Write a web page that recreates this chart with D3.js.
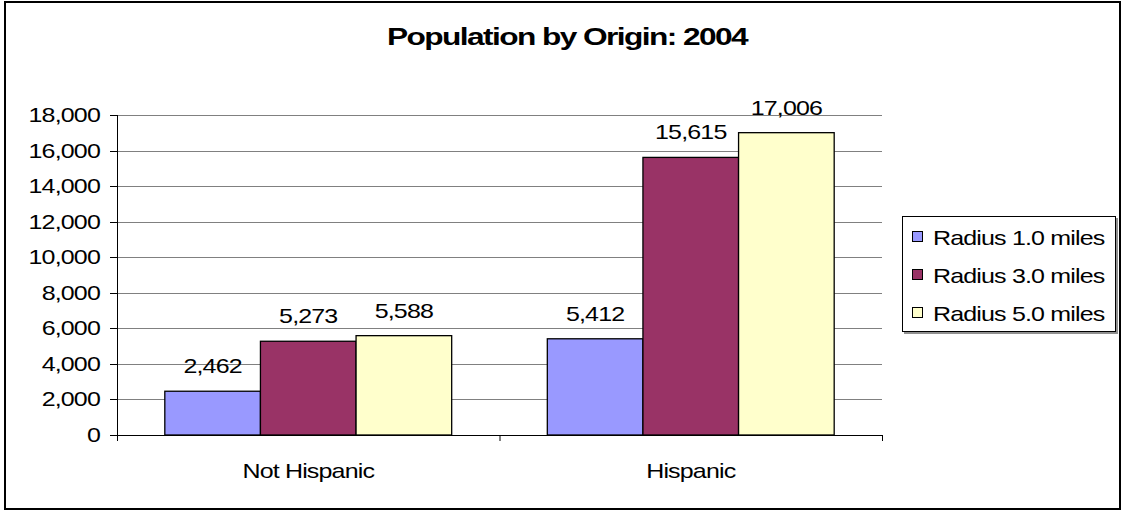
<!DOCTYPE html>
<html>
<head>
<meta charset="utf-8">
<script src="https://cdn.jsdelivr.net/npm/d3@7"></script>
<style>
  body { margin: 0; background: #fff; }
  text { font-family: "Liberation Sans", Arial, sans-serif; fill: #000; letter-spacing: -0.7px; }
</style>
</head>
<body>
<div id="container"></div>
<script>
// data
const categories = ["Not Hispanic", "Hispanic"];
const seriesNames = ["Radius 1.0 miles", "Radius 3.0 miles", "Radius 5.0 miles"];
const radius1 = [2462, 5412];
const radius3 = [5273, 15615];
const radius5 = [5588, 17006];
const yTicks = [0, 2000, 4000, 6000, 8000, 10000, 12000, 14000, 16000, 18000];
const colors = ["#9999FF", "#993366", "#FFFFCC"];

const width = 1123, height = 512;
const plot = { left: 117, right: 882, top: 115, bottom: 435 };
const sx = 1.19; // text in the picture is stretched sideways
const fontSize = 21;

const seriesValues = [radius1, radius3, radius5];

const svg = d3.select("#container").append("svg")
  .attr("width", width)
  .attr("height", height);

// outer frame
svg.append("rect")
  .attr("x", 5).attr("y", 2)
  .attr("width", 1115).attr("height", 507)
  .attr("fill", "#fff")
  .attr("stroke", "#000")
  .attr("stroke-width", 2);

function label(g, x, y, str, anchor, size, weight, scaleX) {
  return g.append("text")
    .attr("transform", `translate(${x},${y}) scale(${scaleX || sx},1)`)
    .attr("text-anchor", anchor)
    .style("font-size", (size || fontSize) + "px")
    .style("font-weight", weight || "normal")
    .text(str);
}

// title
label(svg, 567, 45, "Population by Origin: 2004", "middle", 24, "bold", 1.32)
  .style("letter-spacing", "-1.2px");

const y = d3.scaleLinear().domain([0, 18000]).range([plot.bottom, plot.top]);
const x0 = d3.scaleBand().domain(categories).range([plot.left, plot.right]);
const x1 = d3.scaleBand().domain(seriesNames).range([0, x0.bandwidth()]).paddingOuter(0.5);

// gridlines
svg.selectAll("line.grid")
  .data(yTicks.filter(d => d > 0))
  .join("line")
  .attr("class", "grid")
  .attr("x1", plot.left).attr("x2", plot.right)
  .attr("y1", d => Math.round(y(d)) + 0.5).attr("y2", d => Math.round(y(d)) + 0.5)
  .attr("stroke", "#808080").attr("stroke-width", 1);

// y axis ticks and labels
svg.selectAll("line.ytick")
  .data(yTicks)
  .join("line")
  .attr("class", "ytick")
  .attr("x1", plot.left - 7).attr("x2", plot.left)
  .attr("y1", d => Math.round(y(d)) + 0.5).attr("y2", d => Math.round(y(d)) + 0.5)
  .attr("stroke", "#000");

yTicks.forEach(t => label(svg, 100, y(t) + 7, d3.format(",")(t), "end"));

// bars
const rows = [];
categories.forEach((c, i) => {
  seriesNames.forEach((s, j) => rows.push({ cat: c, series: s, value: seriesValues[j][i], color: colors[j] }));
});

svg.selectAll("rect.bar")
  .data(rows)
  .join("rect")
  .attr("class", "bar")
  .attr("x", d => x0(d.cat) + x1(d.series))
  .attr("y", d => y(d.value))
  .attr("width", x1.bandwidth())
  .attr("height", d => y(0) - y(d.value))
  .attr("fill", d => d.color)
  .attr("stroke", "#000")
  .attr("stroke-width", 1.3);

rows.forEach(d => {
  label(svg, x0(d.cat) + x1(d.series) + x1.bandwidth() / 2, y(d.value) - 18, d3.format(",")(d.value), "middle");
});

// axes lines
svg.append("line")
  .attr("x1", plot.left + 0.5).attr("x2", plot.left + 0.5)
  .attr("y1", plot.top).attr("y2", plot.bottom + 6)
  .attr("stroke", "#000");
svg.append("line")
  .attr("x1", plot.left).attr("x2", plot.right)
  .attr("y1", plot.bottom + 0.5).attr("y2", plot.bottom + 0.5)
  .attr("stroke", "#000");
svg.selectAll("line.xtick")
  .data([plot.left, x0(categories[1]), plot.right])
  .join("line")
  .attr("class", "xtick")
  .attr("x1", d => d + 0.5).attr("x2", d => d + 0.5)
  .attr("y1", plot.bottom).attr("y2", plot.bottom + 6)
  .attr("stroke", "#000");

categories.forEach(c => label(svg, x0(c) + x0.bandwidth() / 2, 478, c, "middle"));

// legend
const legend = svg.append("g").attr("transform", "translate(902,216)");
legend.append("rect")
  .attr("x", 2).attr("y", 2).attr("width", 214).attr("height", 116)
  .attr("fill", "#909090");
legend.append("rect")
  .attr("x", 0.5).attr("y", 0.5).attr("width", 213).attr("height", 115)
  .attr("fill", "#fff").attr("stroke", "#000");

seriesNames.forEach((s, i) => {
  const cy = 21 + i * 38;
  legend.append("rect")
    .attr("x", 10.5).attr("y", cy - 5.5)
    .attr("width", 10).attr("height", 10)
    .attr("fill", colors[i]).attr("stroke", "#000");
  label(legend, 31, cy + 8, s, "start");
});
</script>
</body>
</html>
